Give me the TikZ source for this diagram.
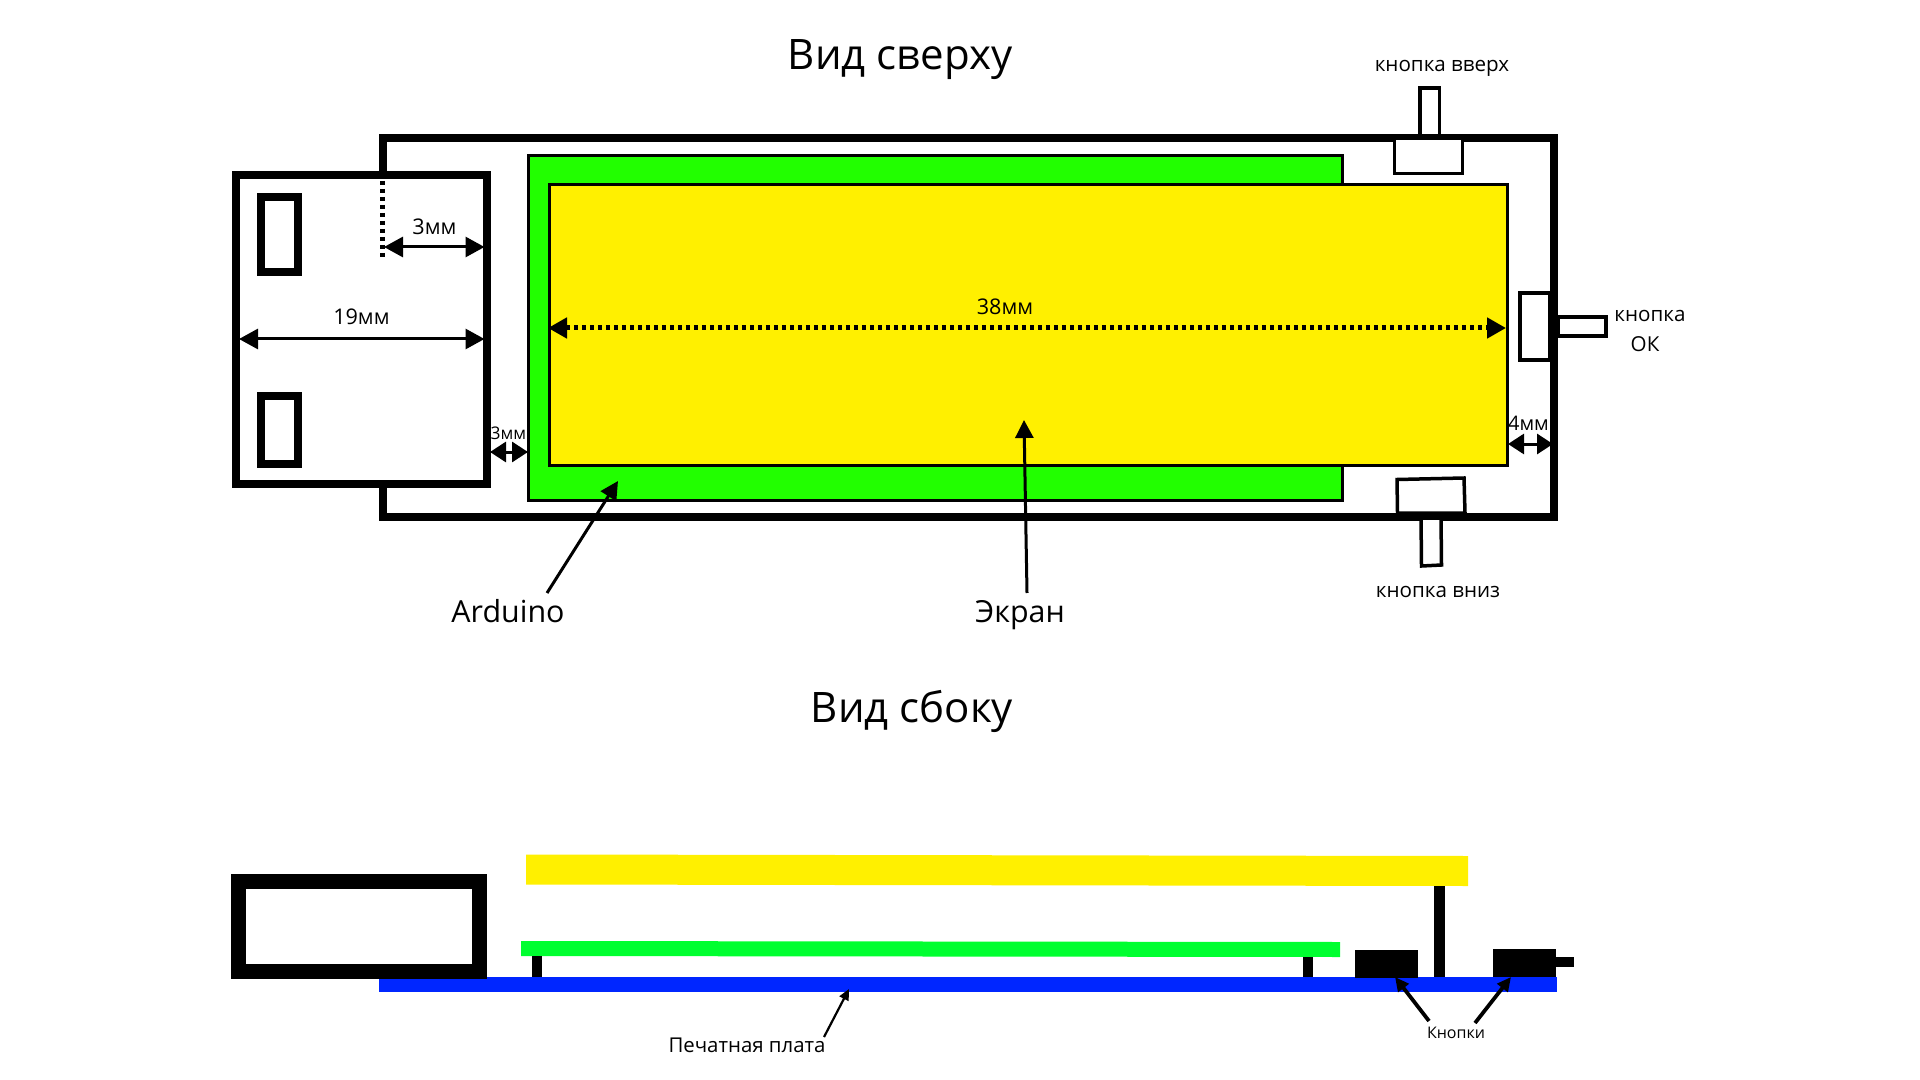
\documentclass[tikz,border=0pt]{standalone}
\usepackage{fontspec}
\setmainfont{Open Sans}
\usetikzlibrary{arrows.meta}
\definecolor{pcbgreen}{HTML}{22FF00}
\definecolor{sidegreen}{HTML}{00FF30}
\definecolor{lcdyellow}{HTML}{FFF000}
\definecolor{pcbblue}{HTML}{0026FF}
\tikzset{
  thick box/.style={draw=black,line width=3.75pt,fill=white,line join=miter},
  thin box/.style={draw=black,line width=1.75pt,fill=white,line join=miter},
  board/.style={draw=black,line width=1.5pt,line join=miter},
  solid part/.style={fill=black,draw=none},
  dim/.style={line width=1.5pt,{Triangle[length=9.5pt,width=10pt]}-{Triangle[length=9.5pt,width=10pt]}},
  dimsmall/.style={line width=1.5pt,{Triangle[length=8pt,width=10pt]}-{Triangle[length=8pt,width=10pt]}},
  pointer/.style={line width=1.5pt,-{Triangle[length=9pt,width=9pt]}},
  pointer small/.style={line width=1.9pt,-{Triangle[length=7pt,width=6.5pt]}},
  pointer thin/.style={line width=1.1pt,-{Triangle[length=5.5pt,width=5pt]}},
  title/.style={font=\fontsize{21}{24}\selectfont,inner sep=0pt},
  big/.style={font=\fontsize{15.2}{18}\selectfont,inner sep=0pt},
  label/.style={font=\fontsize{10.3}{12}\selectfont,inner sep=0pt},
  dim label/.style={font=\fontsize{10.8}{12}\selectfont,inner sep=0pt},
  tiny label/.style={font=\fontsize{8}{10}\selectfont,inner sep=0pt},
}
\begin{document}
\begin{tikzpicture}[x=0.5pt,y=-0.5pt]
\useasboundingbox (0,0) rectangle (1920,1080);
\fill[white] (0,0) rectangle (1920,1080);

% --- top view ---
\draw[thick box,fill=none] (383,138) rectangle (1554,517);
\draw[thick box] (236,175) rectangle (487,484);
\draw[thick box] (261,197) rectangle (298,272);
\draw[thick box] (261,396) rectangle (298,464);
\draw[line width=2.5pt,dash pattern=on 2.2pt off 1.8pt] (382,181) -- (382,257);

\draw[board,fill=pcbgreen] (528,156) rectangle (1342,500);
\draw[board,fill=lcdyellow] (549,185) rectangle (1507,465);

% buttons
\draw[thin box] (1420,88) rectangle (1439.5,136);
\draw[thin box] (1394.5,138.5) rectangle (1462.5,173.5);
\draw[line width=2pt,draw=black,fill=white] (1520,293) rectangle (1550,360);
\draw[thin box,line width=2pt] (1558,317) rectangle (1606,336);
\draw[thin box] (1397,479.5) -- (1464,478) -- (1465,513) -- (1397.5,513) -- cycle;
\draw[thin box] (1421,518) -- (1441,518) -- (1441.5,565) -- (1421.5,566) -- cycle;

% dimensions
\coordinate (d3a) at (384,247);  \coordinate (d3b) at (484.5,247);
\coordinate (d19a) at (239,339); \coordinate (d19b) at (484.5,339);
\coordinate (d3sa) at (490,452); \coordinate (d3sb) at (528,452);
\coordinate (d4a) at (1508,444); \coordinate (d4b) at (1553,444);
\coordinate (d38a) at (548,328); \coordinate (d38b) at (1506,328);
\draw[dim] (d3a) -- (d3b);
\draw[dim] (d19a) -- (d19b);
\draw[dimsmall] (d3sa) -- (d3sb);
\draw[dimsmall] (d4a) -- (d4b);
\draw[dim,dash pattern=on 2.2pt off 1.8pt,line width=2.5pt] (d38a) -- (d38b);

\node[title] (ttop) at (900,60) {Вид сверху};
\node[dim label] (n3) at (434.5,227) {3мм};
\node[dim label] (n19) at (361.5,317) {19мм};
\node[tiny label,font=\fontsize{8.7}{10}\selectfont] (n3s) at (508.5,433) {3мм};
\node[dim label] (n38) at (1005,307) {38мм};
\node[tiny label,font=\fontsize{10}{10}\selectfont] (n4) at (1528.5,423) {4мм};
\node[label] (nup) at (1442,68) {кнопка вверх};
\node[label] (nok1) at (1650,316) {кнопка};
\node[label] (nok2) at (1645,344) {ОК};
\node[label] (ndown) at (1438,592) {кнопка вниз};

\node[big] (arduino) at (508,611) {Arduino};
\node[big] (screen) at (1020,615) {Экран};
\coordinate (arda) at (547,593); \coordinate (ardb) at (618,481);
\coordinate (scra) at (1027,593); \coordinate (scrb) at (1024,420);
\draw[pointer] (arda) -- (ardb);
\draw[pointer] (scra) -- (scrb);

% --- side view ---
\node[title] (tside) at (912,711) {Вид сбоку};
\fill[pcbblue] (379,977) rectangle (1557,992);
\draw[black,line width=7.5pt,line join=miter] (238.5,881.5) rectangle (479.5,971.5);
\fill[lcdyellow] (526,854.5) -- (1468,856) -- (1468,886) -- (526,884.5) -- cycle;
\fill[sidegreen] (521,941) -- (1340,942) -- (1340,957) -- (521,956) -- cycle;
\fill[solid part] (532,956) rectangle (542,977);
\fill[solid part] (1303,957) rectangle (1313,977);
\fill[solid part] (1434,886) rectangle (1444.5,977);
\fill[solid part] (1355,950) rectangle (1418,978);
\fill[solid part] (1493,949) rectangle (1556,977);
\fill[solid part] (1556,957) rectangle (1574,967);

\node[tiny label,font=\fontsize{10.2}{12}\selectfont] (pcb) at (747,1045) {Печатная плата};
\node[tiny label] (btn) at (1456,1033) {Кнопки};
\coordinate (pcba) at (824,1037); \coordinate (pcbb) at (849,989);
\coordinate (btna) at (1429,1021); \coordinate (btnb) at (1395,977);
\coordinate (btnc) at (1475,1023); \coordinate (btnd) at (1511,977);
\draw[pointer thin] (pcba) -- (pcbb);
\draw[pointer small] (btna) -- (btnb);
\draw[pointer small] (btnc) -- (btnd);
\end{tikzpicture}
\end{document}
